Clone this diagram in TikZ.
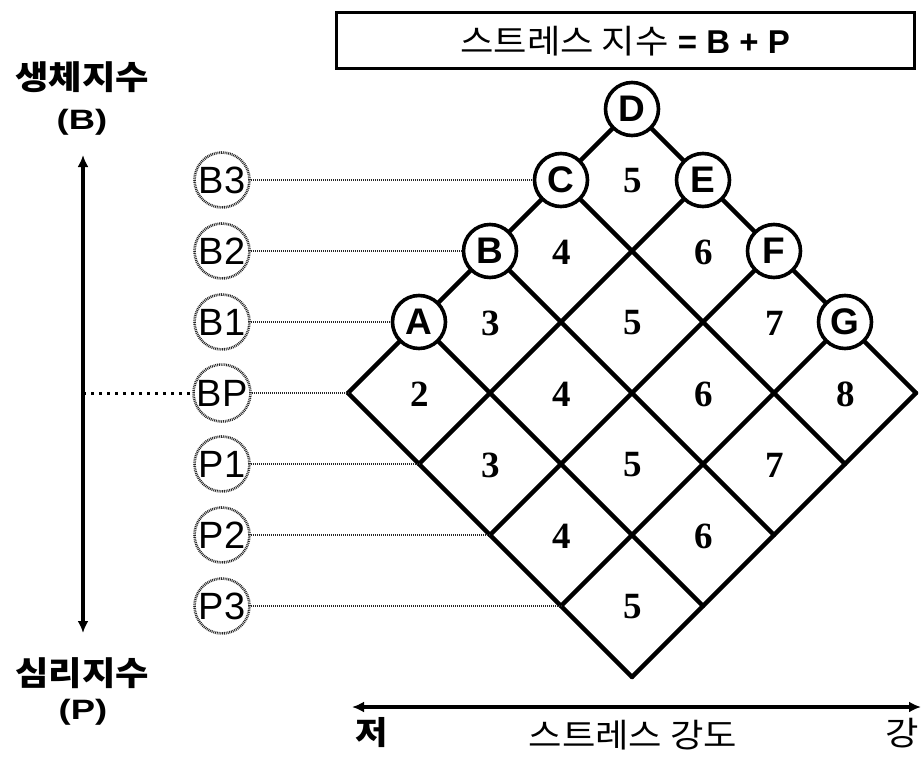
\documentclass[tikz,border=0pt]{standalone}
\usepackage{fontspec}
\setmainfont{Liberation Sans}
\newfontfamily\kr[FakeStretch=1.1]{Noto Sans CJK KR}
\newfontfamily\widesans[FakeStretch=1.3]{Liberation Sans}
\newfontfamily\serifnum{Liberation Serif}
\usetikzlibrary{arrows.meta}
\tikzset{
  gridline/.style={line width=4.4pt, line cap=round},
  numlbl/.style={font=\serifnum\bfseries\fontsize{37}{37}\selectfont, inner sep=0pt},
  lettercirc/.style={circle, draw=black, line width=3.6pt, fill=white, inner sep=0pt, minimum size=53pt,
     font=\bfseries\fontsize{37}{37}\selectfont},
  levelcirc/.style={circle, draw=black!85, line width=2.6pt, dash pattern=on 0.9pt off 0.9pt, fill=white,
     inner sep=0pt, minimum size=55pt, font=\fontsize{38}{38}\selectfont},
  guide/.style={draw=black!85, line width=1.1pt, dash pattern=on 1.2pt off 0.8pt},
  bigdots/.style={draw=black, line width=3pt, dash pattern=on 3pt off 5pt},
  axisarrow/.style={draw=black, line width=3.2pt, {Latex[length=12pt,width=11pt]}-{Latex[length=12pt,width=11pt]}},
  krlbl/.style={font=\kr\bfseries\fontsize{33}{33}\selectfont, inner sep=0pt},
  parlbl/.style={font=\widesans\bfseries\fontsize{28}{28}\selectfont, inner sep=0pt},
  botlbl/.style={font=\kr\fontsize{33}{33}\selectfont, inner sep=0pt}
}
\begin{document}
\begin{tikzpicture}[x=1pt,y=-1pt]
\useasboundingbox (0,0) rectangle (923,757);
% grid vertices
\foreach \a in {0,...,4} {
  \foreach \b in {0,...,4} {
    \coordinate (v\a\b) at ({348+71*(\a+\b)},{393+71*(\b-\a)});
  }
}
% grid lines
\foreach \k in {0,...,4} {
  \draw[gridline] (v0\k) -- (v4\k);
  \draw[gridline] (v\k0) -- (v\k4);
}
% numbers
\foreach \u in {0,...,3} {
  \foreach \v in {0,...,3} {
    \pgfmathtruncatemacro\n{2+\u+\v}
    \node[numlbl] (n\u\v) at ({349+71*(\u+\v+1)},{394+71*(\v-\u)}) {\n};
  }
}
% letter circles
\node[lettercirc] (A) at (v10) {A};
\node[lettercirc] (B) at (v20) {B};
\node[lettercirc] (C) at (v30) {C};
\node[lettercirc] (D) at (v40) {D};
\node[lettercirc] (E) at (v41) {E};
\node[lettercirc] (F) at (v42) {F};
\node[lettercirc] (G) at (v43) {G};
% level circles
\coordinate (lx) at (222,0);
\node[levelcirc] (B3) at (v30 -| lx) {B3};
\node[levelcirc] (B2) at (v20 -| lx) {B2};
\node[levelcirc] (B1) at (v10 -| lx) {B1};
\node[levelcirc] (BP) at (v00 -| lx) {BP};
\node[levelcirc] (P1) at (v01 -| lx) {P1};
\node[levelcirc] (P2) at (v02 -| lx) {P2};
\node[levelcirc] (P3) at (v03 -| lx) {P3};
% guide lines
\draw[guide] (B3) -- (C);
\draw[guide] (B2) -- (B);
\draw[guide] (B1) -- (A);
\draw[guide] (BP) -- (v00);
\draw[guide] (P1) -- (v01);
\draw[guide] (P2) -- (v02);
\draw[guide] (P3) -- (v03);
% vertical axis
\coordinate (vt) at (83,155);
\coordinate (vb) at (83,633);
\coordinate (bpx) at (83,393);
\draw[axisarrow] (vt) -- (vb);
\draw[bigdots] (bpx) -- (BP);
\node[krlbl] (lb1) at (82,77) {생체지수};
\node[parlbl] (lb2) at (82,122) {(B)};
\node[krlbl] (lp1) at (82,673) {심리지수};
\node[parlbl] (lp2) at (83,712) {(P)};
% title box
\node[draw=black, line width=3pt, minimum width=578pt, minimum height=56pt, inner sep=0pt] (box) at (625,41)
  {\fontsize{33}{33}\selectfont{\kr 스트레스 지수} {\bfseries = B + P}};
% horizontal axis
\coordinate (hl) at (352,707);
\coordinate (hr) at (921,707);
\draw[axisarrow] (hl) -- (hr);
\node[botlbl, font=\kr\bfseries\fontsize{32}{32}\selectfont] (lo) at (372,733) {저};
\node[botlbl] (mid) at (633,735) {스트레스 강도};
\node[botlbl] (hi) at (902,733) {강};
\end{tikzpicture}
\end{document}
